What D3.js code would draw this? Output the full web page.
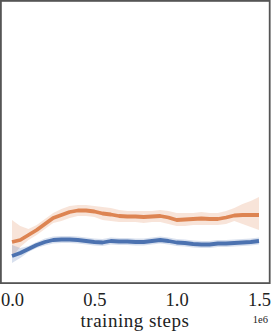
<!DOCTYPE html>
<html><head><meta charset="utf-8">
<script src="https://cdn.jsdelivr.net/npm/d3@7"></script>
<style>body{margin:0;background:#fff}svg{display:block}</style>
</head><body>
<script>
// training steps (x) at every 0.05e6
const steps = d3.range(31).map(i => i * 50000);
const xTicks = [0, 500000, 1000000, 1500000];
const xTickLabels = ["0.0", "0.5", "1.0", "1.5"];
// values (arbitrary return units)
const orangeMean = [41,43,48,53,59,65,68,71,72.5,72.5,71.5,69.5,68.5,67,66.5,66.5,66,66.5,67,65.5,63,63.5,64,64.5,64,64,65.5,67.5,68,68,68];
const orangeHi   = [63,57,54,58,64,70,74,77,78,78,77,76,75,73,72,72,72,72,73,72,70,70,70,71,70,70,72,75,79,82,86];
const orangeLo   = [26,36,43,48,54,60,62,65,67,67,66,63,62,61,61,61,60,61,61,59,57,57,58,58,58,58,59,62,59,56,53];
const blueMean   = [27,30,34,38,41,43,43.5,43.5,43,42,41,40.5,42,41.5,41.5,41,41,42,43,42,40.5,40,39,38.5,38.5,39.5,39.5,40,40.5,41,42];
const blueHi     = [38,35,37,41,44.5,46.5,47,47,46.5,45.5,44.5,44,45.5,45,45,44.5,44.5,45.5,46.5,45.5,44,43.5,42.5,42,42,43,43,43.5,44,44.5,45.5];
const blueLo     = [20,25,31,35,37.5,39.5,40,40,39.5,38.5,37.5,37,38.5,38,38,37.5,37.5,38.5,39.5,38.5,37,36.5,35.5,35,35,36,36,36.5,37,37.5,38.5];

const W = 272, H = 335;
const svg = d3.select("body").append("svg").attr("width", W).attr("height", H);
const x = d3.scaleLinear().domain([0, 1500000]).range([12, 259]);
const y = d3.scaleLinear().domain([0, 283]).range([283, 0]);

const series = [
  {mean: orangeMean, lo: orangeLo, hi: orangeHi, color: "#DD8452"},
  {mean: blueMean, lo: blueLo, hi: blueHi, color: "#4C72B0"}
];
const area = d3.area().x((d, i) => x(steps[i])).y0(d => y(d[0])).y1(d => y(d[1]));
const line = d3.line().x((d, i) => x(steps[i])).y(d => y(d));
series.forEach(s => {
  svg.append("path").datum(s.lo.map((v, i) => [v, s.hi[i]]))
    .attr("d", area).attr("fill", s.color).attr("fill-opacity", 0.22);
});
series.forEach(s => {
  svg.append("path").datum(s.mean).attr("d", line)
    .attr("fill", "none").attr("stroke", s.color).attr("stroke-width", 3.8)
    .attr("stroke-linejoin", "round").attr("stroke-linecap", "butt");
});

// frame
svg.append("rect").attr("x", 0.9).attr("y", 0.9).attr("width", 268.8).attr("height", 282.2)
  .attr("fill", "none").attr("stroke", "#555").attr("stroke-width", 1.8);

const font = "'Liberation Serif', 'DejaVu Serif', serif";
const xAxis = d3.axisBottom(x).tickValues(xTicks).tickSize(0).tickPadding(0)
  .tickFormat((d, i) => xTickLabels[i]);
const g = svg.append("g").attr("transform", "translate(0,283)").call(xAxis);
g.select(".domain").remove();
g.selectAll("text").attr("y", 23).attr("dy", null).attr("font-family", font)
  .attr("font-size", 18.5).attr("fill", "#222");

svg.append("text").attr("x", 135).attr("y", 327).attr("text-anchor", "middle")
  .attr("font-family", font).attr("font-size", 19).attr("letter-spacing", 0.5)
  .attr("fill", "#222").text("training steps");
svg.append("text").attr("x", 268).attr("y", 323).attr("text-anchor", "end")
  .attr("font-family", font).attr("font-size", 10.5).attr("fill", "#222").text("1e6");
</script>
</body></html>
